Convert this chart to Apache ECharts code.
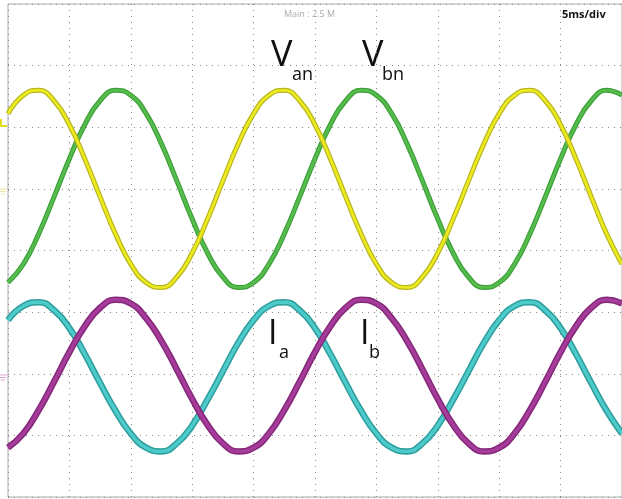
<!DOCTYPE html>
<html>
<head>
<meta charset="utf-8">
<title>三相电压电流波形</title>
<style>
  html, body { margin: 0; padding: 0; background: #fff; }
  #main { width: 622px; height: 499px; }
</style>
</head>
<body>
<div id="main"></div>
<script src="https://cdn.jsdelivr.net/npm/echarts@6/dist/echarts.min.js"></script>
<script>
// 时间轴 (ms)，每 1.25ms 一个采样点，共 10 格 x 5ms
var timeMs = [0, 1.25, 2.5, 3.75, 5, 6.25, 7.5, 8.75, 10, 11.25, 12.5, 13.75, 15, 16.25, 17.5, 18.75,
  20, 21.25, 22.5, 23.75, 25, 26.25, 27.5, 28.75, 30, 31.25, 32.5, 33.75, 35, 36.25, 37.5, 38.75,
  40, 41.25, 42.5, 43.75, 45, 46.25, 47.5, 48.75, 50];

// 纵轴单位：格 (div)，屏幕中线为 0
var vanDiv = [2.22, 2.52, 2.60, 2.43, 2.04, 1.49, 0.87, 0.27, -0.22, -0.52, -0.60, -0.43, -0.04, 0.51, 1.13, 1.73,
  2.22, 2.52, 2.60, 2.43, 2.04, 1.49, 0.87, 0.27, -0.22, -0.52, -0.60, -0.43, -0.04, 0.51, 1.13, 1.73,
  2.22, 2.52, 2.60, 2.43, 2.04, 1.49, 0.87, 0.27, -0.22];
var vbnDiv = [-0.52, -0.22, 0.27, 0.87, 1.49, 2.04, 2.43, 2.60, 2.52, 2.22, 1.73, 1.13, 0.51, -0.04, -0.43, -0.60,
  -0.52, -0.22, 0.27, 0.87, 1.49, 2.04, 2.43, 2.60, 2.52, 2.22, 1.73, 1.13, 0.51, -0.04, -0.43, -0.60,
  -0.52, -0.22, 0.27, 0.87, 1.49, 2.04, 2.43, 2.60, 2.52];
var iaDiv = [-1.13, -0.90, -0.84, -0.97, -1.26, -1.68, -2.15, -2.60, -2.97, -3.20, -3.26, -3.13, -2.84, -2.42, -1.96, -1.50,
  -1.13, -0.90, -0.84, -0.97, -1.26, -1.68, -2.15, -2.60, -2.97, -3.20, -3.26, -3.13, -2.84, -2.42, -1.96, -1.50,
  -1.13, -0.90, -0.84, -0.97, -1.26, -1.68, -2.15, -2.60, -2.97];
var ibDiv = [-3.20, -2.97, -2.59, -2.13, -1.65, -1.23, -0.93, -0.80, -0.86, -1.10, -1.47, -1.93, -2.41, -2.83, -3.13, -3.26,
  -3.20, -2.97, -2.59, -2.13, -1.65, -1.23, -0.93, -0.80, -0.86, -1.10, -1.47, -1.93, -2.41, -2.83, -3.13, -3.26,
  -3.20, -2.97, -2.59, -2.13, -1.65, -1.23, -0.93, -0.80, -0.86];

function pairs(ys) {
    var out = [];
    for (var i = 0; i < timeMs.length; i++) {
        out.push([timeMs[i], ys[i]]);
    }
    return out;
}

// 每条波形画两层：深色外沿 + 亮色中心，模拟示波器的噪声带
function trace(name, ys, edge, core, wEdge, wCore) {
    return [{
        name: name, type: 'line', data: pairs(ys), smooth: true, symbol: 'none',
        lineStyle: { color: edge, width: wEdge }, silent: true
    }, {
        name: name, type: 'line', data: pairs(ys), smooth: true, symbol: 'none',
        lineStyle: { color: core, width: wCore }, silent: true
    }];
}

var series = [].concat(
    trace('Vbn', vbnDiv, '#3f9f3b', '#55bd4c', 5, 2.6),
    trace('Van', vanDiv, '#b9b61c', '#eceb22', 5, 2.6),
    trace('Ia', iaDiv, '#2f9e9e', '#4dcaca', 6.5, 3.4),
    trace('Ib', ibDiv, '#86287c', '#a53c9a', 6.5, 3.4)
);

var gridLine = { show: true, lineStyle: { color: '#8a8a8a', width: 1, type: [1, 5] } };

var option = {
    animation: false,
    backgroundColor: '#ffffff',
    grid: { left: 8, top: 4, width: 617, height: 493, show: true, borderColor: '#ababab', borderWidth: 1 },
    xAxis: {
        type: 'value', min: 0, max: 50, interval: 5,
        axisLine: { show: false }, axisTick: { show: false }, axisLabel: { show: false },
        splitLine: gridLine
    },
    yAxis: {
        type: 'value', min: -4, max: 4, interval: 1,
        axisLine: { show: false }, axisTick: { show: false }, axisLabel: { show: false },
        splitLine: gridLine
    },
    series: series,
    graphic: [
        { type: 'text', x: 284, y: 14, style: { text: 'Main : 2.5 M', fill: '#ababab', font: '9px "Open Sans"', textVerticalAlign: 'middle' } },
        { type: 'text', x: 562, y: 15, style: { text: '5ms/div', fill: '#111', font: 'bold 11px "Open Sans"', textVerticalAlign: 'middle' } },

        { type: 'text', x: 271, y: 56, style: { text: 'V', fill: '#111', font: '36px "Open Sans"', textVerticalAlign: 'middle' } },
        { type: 'text', x: 292, y: 75, style: { text: 'an', fill: '#111', font: '18px "Open Sans"', textVerticalAlign: 'middle' } },
        { type: 'text', x: 362, y: 56, style: { text: 'V', fill: '#111', font: '36px "Open Sans"', textVerticalAlign: 'middle' } },
        { type: 'text', x: 382, y: 75, style: { text: 'bn', fill: '#111', font: '18px "Open Sans"', textVerticalAlign: 'middle' } },
        { type: 'text', x: 268, y: 334, style: { text: 'I', fill: '#111', font: '34px "Open Sans"', textVerticalAlign: 'middle' } },
        { type: 'text', x: 279, y: 353, style: { text: 'a', fill: '#111', font: '18px "Open Sans"', textVerticalAlign: 'middle' } },
        { type: 'text', x: 360, y: 334, style: { text: 'I', fill: '#111', font: '34px "Open Sans"', textVerticalAlign: 'middle' } },
        { type: 'text', x: 369, y: 353, style: { text: 'b', fill: '#111', font: '18px "Open Sans"', textVerticalAlign: 'middle' } },

        // 通道标记
        { type: 'polyline', shape: { points: [[1, 119], [1, 126], [7, 126]] }, style: { stroke: '#e0dc1c', lineWidth: 2, fill: null } },
        { type: 'polyline', shape: { points: [[0, 189], [7, 189]] }, style: { stroke: '#e8e7a0', lineWidth: 1 } },
        { type: 'polyline', shape: { points: [[0, 191.5], [6, 191.5]] }, style: { stroke: '#e8e7a0', lineWidth: 1 } },
        { type: 'polyline', shape: { points: [[1, 194], [5, 194]] }, style: { stroke: '#e8e7a0', lineWidth: 1 } },
        { type: 'polyline', shape: { points: [[0, 375], [7, 375]] }, style: { stroke: '#d9a2d2', lineWidth: 1 } },
        { type: 'polyline', shape: { points: [[0, 377.5], [6, 377.5]] }, style: { stroke: '#d9a2d2', lineWidth: 1 } },
        { type: 'polyline', shape: { points: [[1, 380], [5, 380]] }, style: { stroke: '#d9a2d2', lineWidth: 1 } }
    ]
};

var myChart = echarts.init(document.getElementById('main'));
myChart.setOption(option);
</script>
</body>
</html>
